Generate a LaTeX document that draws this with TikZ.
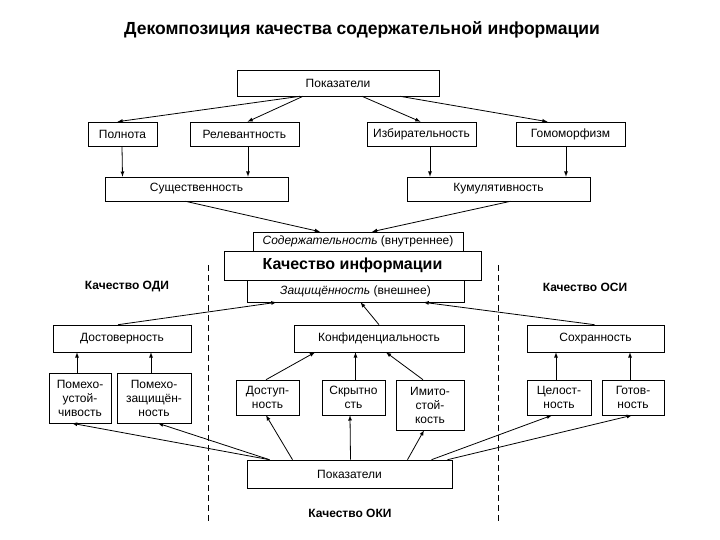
\documentclass[tikz,border=0pt]{standalone}
\usepackage{fontspec}
\setmainfont{Liberation Sans}
\begin{document}
\begin{tikzpicture}[x=1pt,y=-1pt,
  box/.style={draw,semithick,inner sep=0pt,align=center,font=\fontsize{12}{14}\selectfont},
  ar/.style={->,>=latex,thick},
  lbl/.style={font=\bfseries\fontsize{12}{14}\selectfont}]
\useasboundingbox (0,0) rectangle (720,540);
\newcommand\bx[6]{\node[box,minimum width=#4-#2,minimum height=#5-#3] (#1) at ({(#2+#4)/2},{(#3+#5)/2}) {#6};}
\node[font=\bfseries\fontsize{17.5}{20}\selectfont] (title) at (362,30) {Декомпозиция качества содержательной информации};
\bx{P}{237}{70}{439}{96}{Показатели}
\bx{pol}{88}{122}{157}{146}{Полнота}
\bx{rel}{190}{122}{299}{146}{Релевантность}
\bx{izb}{367}{122}{476}{146}{Избирательность}
\bx{gom}{516}{122}{625}{146}{Гомоморфизм}
\bx{sus}{105}{177}{288}{201}{Существенность}
\bx{kum}{407}{177}{590}{201}{Кумулятивность}
\bx{sod}{253}{232}{463}{251}{\textit{Содержательность} (внутреннее)}
\bx{zas}{247}{280}{464}{302}{\textit{Защищённость} (внешнее)}
\bx{ki}{224}{251}{481}{280}{\bfseries\fontsize{16}{18}\selectfont Качество информации}
\node[lbl] (odi) at (127,287) {Качество ОДИ};
\node[lbl] (osi) at (585,287) {Качество ОСИ};
\node[lbl] (oki) at (350,513) {Качество ОКИ};
\coordinate (d1a) at (208,265); \coordinate (d1b) at (208,522);
\coordinate (d2a) at (498,265); \coordinate (d2b) at (498,522);
\draw[thick,dash pattern=on 6pt off 4pt] (d1a)--(d1b) (d2a)--(d2b);
\bx{dos}{53}{325}{191}{352}{Достоверность}
\bx{kon}{294}{325}{464}{352}{Конфиденциальность}
\bx{soh}{527}{325}{664}{352}{Сохранность}
\bx{pu}{49}{373}{111}{423}{Помехо-\\устой-\\чивость}
\bx{pz}{117}{373}{191}{423}{Помехо-\\защищён-\\ность}
\bx{dst}{236}{380}{299}{415}{Доступ-\\ность}
\bx{skr}{322}{380}{385}{415}{Скрытно\\сть}
\bx{imi}{396}{380}{464}{430}{Имито-\\стой-\\кость}
\bx{cel}{527}{380}{591}{415}{Целост-\\ность}
\bx{got}{602}{380}{664}{415}{Готов-\\ность}
\bx{P2}{247}{460}{452}{488}{Показатели}
% top arrows
\draw[ar] ([xshift=-38pt]P.south) -- ([xshift=-5pt]pol.north);
\draw[ar] ([xshift=-35pt]P.south) -- ([xshift=3pt]rel.north);
\draw[ar] ([xshift=24pt]P.south) -- ([xshift=-1pt]izb.north);
\draw[ar] ([xshift=62pt]P.south) -- ([xshift=-23pt]gom.north);
\draw[ar] ([xshift=-0.5pt]pol.south) -- (pol.south|-sus.north);
\draw[ar] ([xshift=3.5pt]rel.south) -- ([xshift=3.5pt]rel.south|-sus.north);
\draw[ar] ([xshift=8.5pt]izb.south) -- ([xshift=8.5pt]izb.south|-kum.north);
\draw[ar] ([xshift=-4.5pt]gom.south) -- ([xshift=-4.5pt]gom.south|-kum.north);
\draw[ar] ([xshift=-11pt]sus.south) -- ([xshift=-38pt]sod.north);
\draw[ar] ([xshift=12pt]kum.south) -- ([xshift=14pt]sod.north);
% middle
\draw[ar] ([xshift=-4pt]dos.north) -- ([xshift=-79pt]zas.south);
\draw[ar] (kon.north) -- ([xshift=5pt]zas.south);
\draw[ar] ([xshift=-1pt]soh.north) -- ([xshift=68pt]zas.south);
\draw[ar] ([xshift=-3pt]pu.north) -- ([xshift=-3pt]pu.north|-dos.south);
\draw[ar] ([xshift=-3pt]pz.north) -- ([xshift=-3pt]pz.north|-dos.south);
\draw[ar] ([xshift=-1.5pt]dst.north) -- ([xshift=-64pt]kon.south);
\draw[ar] ([xshift=2pt]skr.north) -- ([xshift=2pt]skr.north|-kon.south);
\draw[ar] ([xshift=-7pt]imi.north) -- ([xshift=7pt]kon.south);
\draw[ar] ([xshift=-3pt]cel.north) -- ([xshift=-3pt]cel.north|-soh.south);
\draw[ar] ([xshift=-3pt]got.north) -- ([xshift=-3pt]got.north|-soh.south);
% bottom
\draw[ar] ([xshift=-80pt]P2.north) -- ([xshift=-8pt]pu.south);
\draw[ar] ([xshift=-80pt]P2.north) -- ([xshift=4pt]pz.south);
\draw[ar] ([xshift=-57pt]P2.north) -- ([xshift=-1.5pt]dst.south);
\draw[ar] ([xshift=1pt]P2.north) -- ([xshift=-3.5pt]skr.south);
\draw[ar] ([xshift=58pt]P2.north) -- ([xshift=-6pt]imi.south);
\draw[ar] ([xshift=82pt]P2.north) -- ([xshift=-7pt]cel.south);
\draw[ar] ([xshift=98pt]P2.north) -- ([xshift=-1pt]got.south);
\end{tikzpicture}
\end{document}
